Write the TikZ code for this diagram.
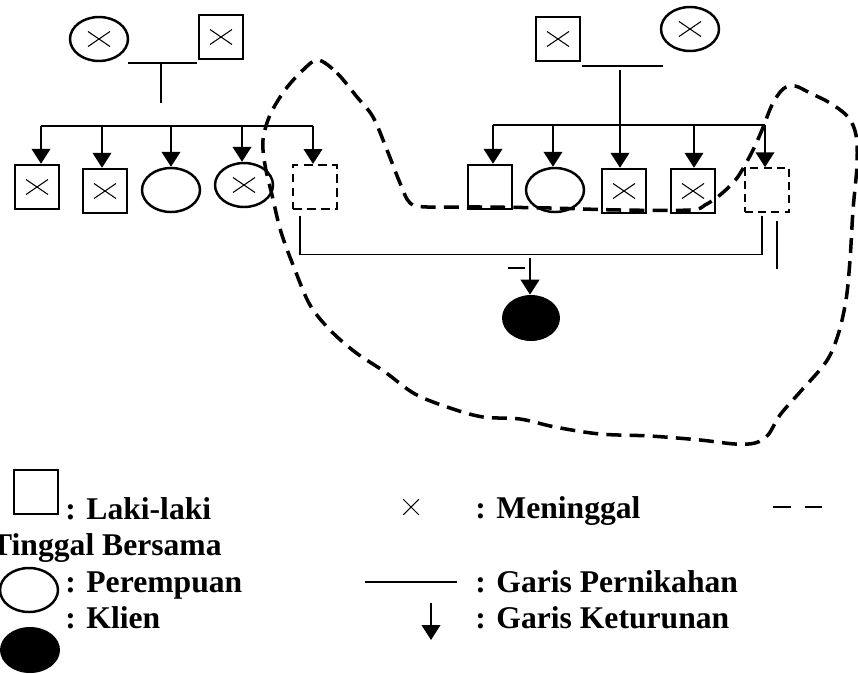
\documentclass[tikz,border=0pt]{standalone}
\usepackage{fontspec}
\setmainfont{Liberation Serif}
\usetikzlibrary{shapes.geometric,arrows.meta}

\tikzset{
  kotak/.style={draw, line width=1.4pt, minimum width=0.88cm, minimum height=0.88cm, inner sep=0pt},
  bulat/.style={draw, ellipse, line width=1.4pt, minimum width=1.16cm, minimum height=0.88cm, inner sep=0pt},
  kotakputus/.style={kotak, line width=1.2pt, dash pattern=on 5pt off 3pt},
  klien/.style={ellipse, fill=black, minimum width=1.16cm, minimum height=0.92cm, inner sep=0pt},
  mati/.style={path picture={
    \draw[line width=0.6pt] ([shift={(-0.22cm,-0.15cm)}]path picture bounding box.center) -- ([shift={(0.22cm,0.15cm)}]path picture bounding box.center)
      ([shift={(-0.22cm,0.15cm)}]path picture bounding box.center) -- ([shift={(0.22cm,-0.15cm)}]path picture bounding box.center);}},
  nikah/.style={line width=0.7pt},
  turunan/.style={line width=1.4pt, -{Triangle[width=10.5pt,length=8.5pt]}},
  serumah/.style={line width=2pt, dash pattern=on 8.5pt off 4.7pt},
  ket/.style={font=\fontsize{18}{20}\selectfont\bfseries, inner sep=0pt, anchor=base west}
}

\begin{document}
\begin{tikzpicture}[x=0.02cm,y=-0.02cm]
        \useasboundingbox (0,0) rectangle (858,673);

        % Kakek dan nenek (kiri)
        \node[bulat,mati] (nenek1) at (99,39) {};
        \node[kotak,mati] (kakek1) at (221,37) {};
        \coordinate (nk1a) at (128,63);
        \coordinate (nk1b) at (197,63);
        \coordinate (nk1c) at (161,63);
        \coordinate (nk1d) at (161,103);
        \draw[nikah] (nk1a) -- (nk1b);
        \draw[nikah] (nk1c) -- (nk1d);

        % Anak-anak (kiri)
        \node[kotak,mati] (anak1) at (37,187) {};
        \node[kotak,mati] (anak2) at (105,191) {};
        \node[bulat] (anak3) at (171,190) {};
        \node[bulat,mati] (anak4) at (244,185) {};
        \node[kotakputus] (anak5) at (315,187) {};
        \coordinate (sd1a) at (41,126);
        \coordinate (sd1b) at (313,126);
        \draw[nikah, line width=0.9pt] (sd1a) -- (sd1b);
        \foreach \x/\n in {41/anak1,102/anak2,171/anak3,242/anak4,313/anak5}
            \draw[turunan] (\x,126) -- (\x,126 |- \n.north);

        % Kakek dan nenek (kanan)
        \node[kotak,mati] (kakek2) at (558,39) {};
        \node[bulat,mati] (nenek2) at (690,29) {};
        \coordinate (nk2a) at (582,66);
        \coordinate (nk2b) at (663,66);
        \coordinate (nk2c) at (620,70);
        \coordinate (nk2d) at (620,125);
        \draw[nikah] (nk2a) -- (nk2b);
        \draw[nikah] (nk2c) -- (nk2d);

        % Anak-anak (kanan)
        \node[kotak] (anak6) at (490,187) {};
        \node[bulat] (anak7) at (555,190) {};
        \node[kotak,mati] (anak8) at (624,191) {};
        \node[kotak,mati] (anak9) at (693,191) {};
        \node[kotakputus, line width=0.9pt, dash pattern=on 4.5pt off 3pt] (anak10) at (767,190) {};
        \coordinate (sd2a) at (493,125);
        \coordinate (sd2b) at (765,125);
        \draw[nikah, line width=0.9pt] (sd2a) -- (sd2b);
        \foreach \x/\n in {493/anak6,553/anak7,620/anak8,694/anak9,765/anak10}
            \draw[turunan] (\x,125) -- (\x,125 |- \n.north);

        % Pernikahan orang tua klien
        \draw[nikah] ([xshift=-0.3cm,yshift=-0.12cm]anak5.south) |- ([xshift=-0.1cm,yshift=-0.84cm]anak10.south) -- ([xshift=-0.1cm,yshift=-0.06cm]anak10.south);
        \draw[nikah] ([xshift=0.2cm,yshift=-0.16cm]anak10.south) -- ([xshift=0.2cm,yshift=-1.12cm]anak10.south);

        % Klien
        \node[klien] (klien) at (531,318) {};
        \coordinate (kl) at (530,258);
        \coordinate (tk1) at (508,268);
        \coordinate (tk2) at (525,268);
        \draw[nikah] (tk1) -- (tk2);
        \draw[turunan] (kl) -- (kl |- klien.north);

        % Tinggal bersama
        \draw[serumah] plot[smooth cycle, tension=0.55] coordinates {
            (318,60) (337,73) (357,97) (373,117) (387,150) (400,183) (410,203) (427,207)
            (480,207) (550,208) (620,210) (690,210) (705,205) (720,195) (737,178) (752,152)
            (762,130) (772,105) (783,89) (795,86) (810,93) (830,103) (848,117) (856,135)
            (857,165) (853,210) (850,260) (846,300) (838,335) (826,362) (800,392) (780,415)
            (768,435) (755,443) (735,444) (700,440) (650,436) (600,434) (555,427) (520,419)
            (483,417) (450,408) (415,394) (385,372) (355,352) (330,330) (310,305) (295,270)
            (281,232) (272,195) (265,165) (263,140) (270,115) (285,90) (303,70)};

        % Keterangan
        \node[kotak] (lgPria) at (36,492) {};
        \node[bulat] (lgWanita) at (29,590) {};
        \node[klien, minimum width=1.2cm] (lgKlien) at (30,650) {};
        \node[ket] at (65,519) {: Laki-laki};
        \node[ket, anchor=base east] at (222,555) {Tinggal Bersama};
        \node[ket] at (65,592) {: Perempuan};
        \node[ket] at (65,628) {: Klien};

        \node[minimum size=0.3cm, inner sep=0pt] (lgMati) at (411,507) {};
        \draw[line width=0.6pt] (lgMati.north west) -- (lgMati.south east) (lgMati.south west) -- (lgMati.north east);
        \coordinate (lgN1) at (365,582);
        \coordinate (lgN2) at (457,582);
        \draw[nikah] (lgN1) -- (lgN2);
        \coordinate (lgT1) at (431,603);
        \coordinate (lgT2) at (431,640);
        \draw[turunan, line width=1.3pt] (lgT1) -- (lgT2);
        \coordinate (lgS1) at (773,507);
        \coordinate (lgS2) at (823,507);
        \draw[nikah, dash pattern=on 10pt off 8pt] (lgS1) -- (lgS2);
        \node[ket] at (475,518) {: Meninggal};
        \node[ket] at (475,592) {: Garis Pernikahan};
        \node[ket] at (475,628) {: Garis Keturunan};
\end{tikzpicture}
\end{document}
